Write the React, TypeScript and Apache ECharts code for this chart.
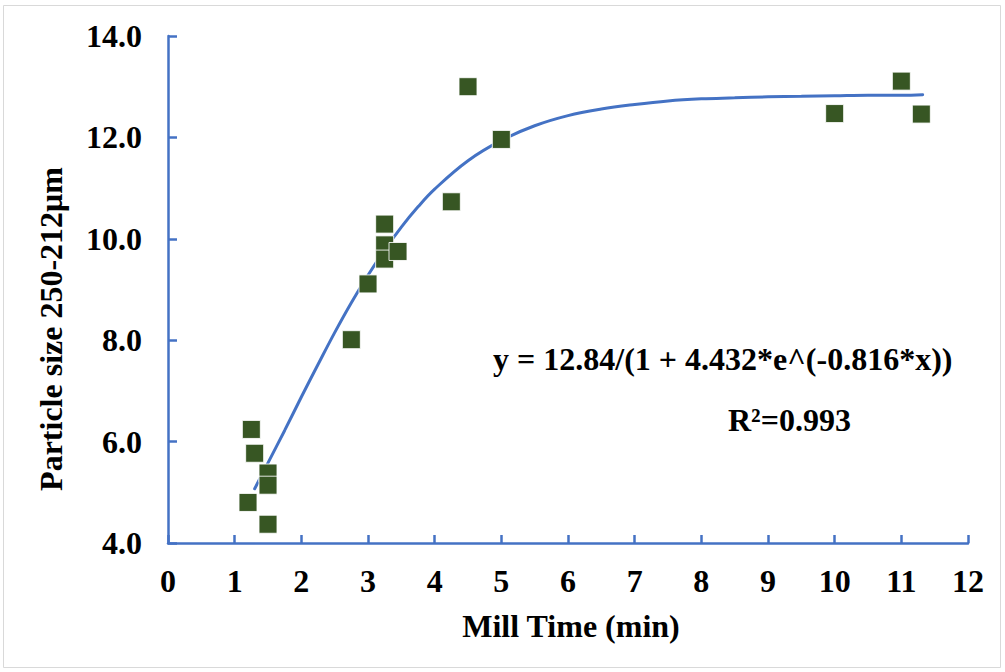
import React, { useEffect, useRef } from "react";
import * as echarts from "echarts";

// Measured points: [mill time (min), particle size]
const millTime = [1.2, 1.25, 1.3, 1.5, 1.5, 1.5, 2.75, 3.0, 3.25, 3.25, 3.25, 3.45, 4.25, 4.5, 5.0, 10.0, 11.0, 11.3];
const particleSize = [4.8, 6.24, 5.77, 5.38, 5.14, 4.37, 8.01, 9.11, 10.29, 9.88, 9.6, 9.75, 10.73, 13.0, 11.96, 12.47, 13.11, 12.46];

// Fitted trend curve
const fitX = [1.3, 1.5, 1.75, 2, 2.25, 2.5, 2.75, 3, 3.25, 3.5, 3.75, 4, 4.5, 5, 5.5, 6, 6.5, 7, 7.5, 8, 8.5, 9, 9.5, 10, 10.5, 11, 11.32];
const fitY = [5.07, 5.58, 6.22, 6.88, 7.52, 8.15, 8.74, 9.28, 9.78, 10.23, 10.63, 10.98, 11.54, 11.94, 12.23, 12.43, 12.56, 12.65, 12.72, 12.76, 12.78, 12.8, 12.81, 12.82, 12.83, 12.83, 12.84];

const xTicks = [0, 12, 1];
const yTicks = [4, 14, 2];

const equationText = "y = 12.84/(1 + 4.432*e^(-0.816*x))";
const r2Text = "R²=0.993";
const xTitle = "Mill Time (min)";
const yTitle = "Particle size 250-212μm";

const FONT = "'Liberation Serif', 'Times New Roman', serif";
const AXIS_BLUE = "#4472C4";

export default function App() {
  const ref = useRef<HTMLDivElement>(null);
  useEffect(() => {
    if (!ref.current) return;
    const chart = echarts.init(ref.current, null, { renderer: "svg" });
    const points = millTime.map((x, i) => [x, particleSize[i]]);
    const fit = fitX.map((x, i) => [x, fitY[i]]);
    chart.setOption({
      animation: false,
      backgroundColor: "#ffffff",
      grid: { left: 168, right: 37, top: 36, bottom: 129, containLabel: false },
      xAxis: {
        type: "value",
        min: xTicks[0],
        max: xTicks[1],
        interval: xTicks[2],
        axisLine: { show: true, lineStyle: { color: AXIS_BLUE, width: 2.5 } },
        axisTick: { show: true, inside: true, length: 8, lineStyle: { color: AXIS_BLUE, width: 2.5 } },
        splitLine: { show: false },
        axisLabel: {
          margin: 22,
          color: "#000",
          fontFamily: FONT,
          fontWeight: "bold",
          fontSize: 32,
        },
      },
      yAxis: {
        type: "value",
        min: yTicks[0],
        max: yTicks[1],
        interval: yTicks[2],
        axisLine: { show: true, lineStyle: { color: AXIS_BLUE, width: 2.5 } },
        axisTick: { show: true, inside: true, length: 9, lineStyle: { color: AXIS_BLUE, width: 2.5 } },
        splitLine: { show: false },
        axisLabel: {
          margin: 26,
          color: "#000",
          fontFamily: FONT,
          fontWeight: "bold",
          fontSize: 32,
          formatter: (v: number) => v.toFixed(1),
        },
      },
      series: [
        {
          type: "line",
          data: fit,
          smooth: 0.4,
          showSymbol: false,
          symbol: "none",
          lineStyle: { color: AXIS_BLUE, width: 3, cap: "round" },
          z: 2,
        },
        {
          type: "scatter",
          data: points,
          symbol: "rect",
          symbolSize: 18,
          itemStyle: { color: "#375623", borderColor: "rgba(255,255,255,0.85)", borderWidth: 1, opacity: 1 },
          z: 3,
        },
      ],
      graphic: [
        {
          type: "rect",
          shape: { x: 3.5, y: 5.5, width: 997, height: 662 },
          style: { fill: "none", stroke: "#d9d9d9", lineWidth: 1 },
          silent: true,
          z: -1,
        },
        {
          type: "text",
          x: 51,
          y: 329,
          rotation: Math.PI / 2,
          style: {
            text: yTitle,
            font: `bold 32px ${FONT}`,
            fill: "#000",
            align: "center",
            verticalAlign: "middle",
          },
        },
        {
          type: "text",
          x: 571,
          y: 626,
          style: {
            text: xTitle,
            font: `bold 32px ${FONT}`,
            fill: "#000",
            align: "center",
            verticalAlign: "middle",
          },
        },
        {
          type: "text",
          x: 493,
          y: 359,
          style: {
            text: equationText,
            font: `bold 32px ${FONT}`,
            fill: "#000",
            align: "left",
            verticalAlign: "middle",
          },
        },
        {
          type: "text",
          x: 728,
          y: 420,
          style: {
            text: r2Text,
            font: `bold 32px ${FONT}`,
            fill: "#000",
            align: "left",
            verticalAlign: "middle",
          },
        },
      ],
    });
    return () => chart.dispose();
  }, []);
  return (
    <div
      ref={ref}
      style={{ position: "fixed", left: 0, top: 0, width: 1005, height: 672 }}
    />
  );
}
